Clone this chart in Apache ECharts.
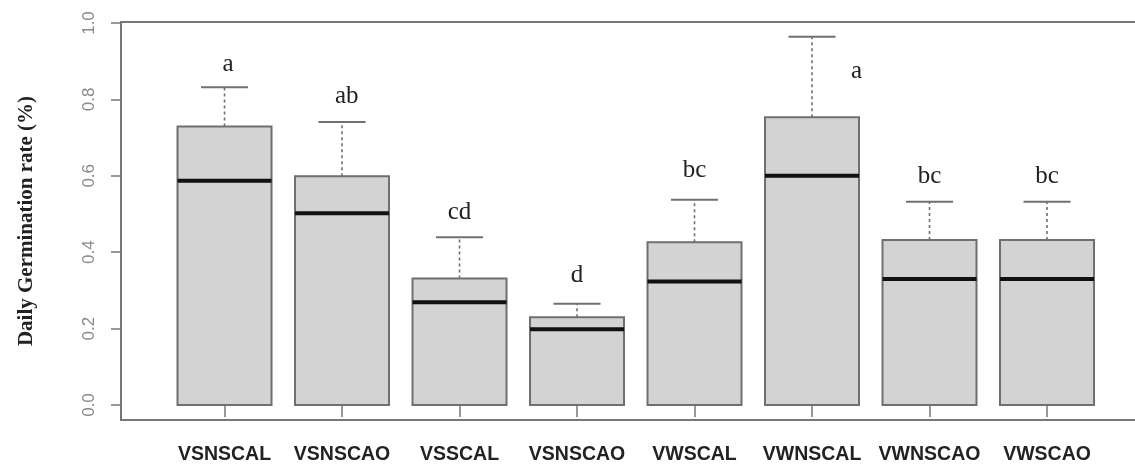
<!DOCTYPE html>
<html>
<head>
<meta charset="utf-8">
<script src="https://cdn.jsdelivr.net/npm/echarts@6/dist/echarts.min.js"></script>
<style>
  html, body { margin: 0; padding: 0; background: #fff; }
  #chart { width: 1135px; height: 468px; }
</style>
</head>
<body>
<div id="chart"></div>
<script>
// groups, in drawing order
var groups = ['VSNSCAL', 'VSNSCAO', 'VSSCAL', 'VSNSCAO', 'VWSCAL', 'VWNSCAL', 'VWNSCAO', 'VWSCAO'];
// box statistics
var q1Vals     = [0, 0, 0, 0, 0, 0, 0, 0];
var medianVals = [0.587, 0.502, 0.269, 0.198, 0.323, 0.600, 0.330, 0.330];
var q3Vals     = [0.729, 0.599, 0.331, 0.230, 0.426, 0.753, 0.432, 0.432];
var maxVals    = [0.832, 0.741, 0.439, 0.265, 0.537, 0.964, 0.532, 0.532];
// significance letters and where they sit (x in group units, y baseline value)
var letters  = ['a', 'ab', 'cd', 'd', 'bc', 'a', 'bc', 'bc'];
var letterX  = [1.03, 2.04, 3, 4, 5, 6.38, 7, 8];
var letterY  = [0.875, 0.790, 0.486, 0.323, 0.598, 0.855, 0.582, 0.582];
var yTicks   = [0, 0.2, 0.4, 0.6, 0.8, 1.0];
var xTicks   = [1, 2, 3, 4, 5, 6, 7, 8];

var boxData = groups.map(function (g, i) {
  return [i + 1, q1Vals[i], medianVals[i], q3Vals[i], maxVals[i], letterX[i], letterY[i]];
});

var myChart = echarts.init(document.getElementById('chart'), null, {renderer: 'canvas'});

function renderBox(params, api) {
  var x = api.value(0);
  var q1 = api.value(1), med = api.value(2), q3 = api.value(3), mx = api.value(4);
  var lx = api.value(5), ly = api.value(6);
  var half = 0.4, cap = 0.2;
  var tl = api.coord([x - half, q3]);
  var br = api.coord([x + half, q1]);
  var mL = api.coord([x - half, med]);
  var mR = api.coord([x + half, med]);
  var wTop = api.coord([x, mx]);
  var wBot = api.coord([x, q3]);
  var cL = api.coord([x - cap, mx]);
  var cR = api.coord([x + cap, mx]);
  var lp = api.coord([lx, ly]);
  return {
    type: 'group',
    children: [
      {
        type: 'line',
        shape: {x1: wBot[0], y1: wBot[1], x2: wTop[0], y2: wTop[1]},
        style: {stroke: '#707070', lineWidth: 1.6, lineDash: [3, 3]}
      },
      {
        type: 'line',
        shape: {x1: cL[0], y1: cL[1], x2: cR[0], y2: cR[1]},
        style: {stroke: '#707070', lineWidth: 2}
      },
      {
        type: 'rect',
        shape: {x: tl[0], y: tl[1], width: br[0] - tl[0], height: br[1] - tl[1]},
        style: {fill: '#d3d3d3', stroke: '#6f6f6f', lineWidth: 2}
      },
      {
        type: 'line',
        shape: {x1: mL[0], y1: mL[1], x2: mR[0], y2: mR[1]},
        style: {stroke: '#111', lineWidth: 4}
      },
      {
        type: 'text',
        x: lp[0], y: lp[1] + 6,
        style: {
          text: letters[params.dataIndex],
          fill: '#222',
          font: '25px "Liberation Serif", "Times New Roman", serif',
          align: 'center',
          verticalAlign: 'bottom'
        }
      }
    ]
  };
}

myChart.setOption({
  animation: false,
  backgroundColor: '#fff',
  grid: {
    left: 121,
    top: 22,
    width: 1030,
    height: 398,
    outerBoundsMode: 'none',
    containLabel: false,
    show: true,
    borderColor: '#777',
    borderWidth: 2,
    backgroundColor: 'transparent'
  },
  xAxis: {
    type: 'value',
    min: 0.119,
    max: 8.885,
    splitLine: {show: false},
    axisLine: {show: false},
    axisTick: {
      show: true,
      length: 12,
      customValues: xTicks,
      lineStyle: {color: '#777', width: 1.5}
    },
    axisLabel: {
      customValues: xTicks,
      margin: 25,
      formatter: function (v) { return groups[Math.round(v) - 1] || ''; },
      color: '#222',
      fontWeight: 'bold',
      fontSize: 19.5,
      fontFamily: '"Liberation Sans", Arial, sans-serif'
    }
  },
  yAxis: {
    type: 'value',
    min: -0.0393,
    max: 1.0026,
    name: 'Daily Germination rate (%)',
    nameLocation: 'middle',
    nameGap: 84,
    nameTextStyle: {
      color: '#222',
      fontWeight: 'bold',
      fontSize: 21,
      fontFamily: '"Liberation Serif", "Times New Roman", serif'
    },
    splitLine: {show: false},
    axisLine: {show: false},
    axisTick: {
      show: true,
      length: 10,
      customValues: yTicks,
      lineStyle: {color: '#777', width: 1.5}
    },
    axisLabel: {
      customValues: yTicks,
      rotate: 90,
      margin: 23,
      formatter: function (v) { return v.toFixed(1); },
      color: '#888',
      fontSize: 17,
      fontFamily: '"Liberation Sans", Arial, sans-serif'
    }
  },
  series: [
    {
      name: 'Daily Germination rate',
      type: 'custom',
      renderItem: renderBox,
      encode: {x: 0, y: [1, 2, 3, 4]},
      data: boxData,
      clip: false
    }
  ]
});
</script>
</body>
</html>
